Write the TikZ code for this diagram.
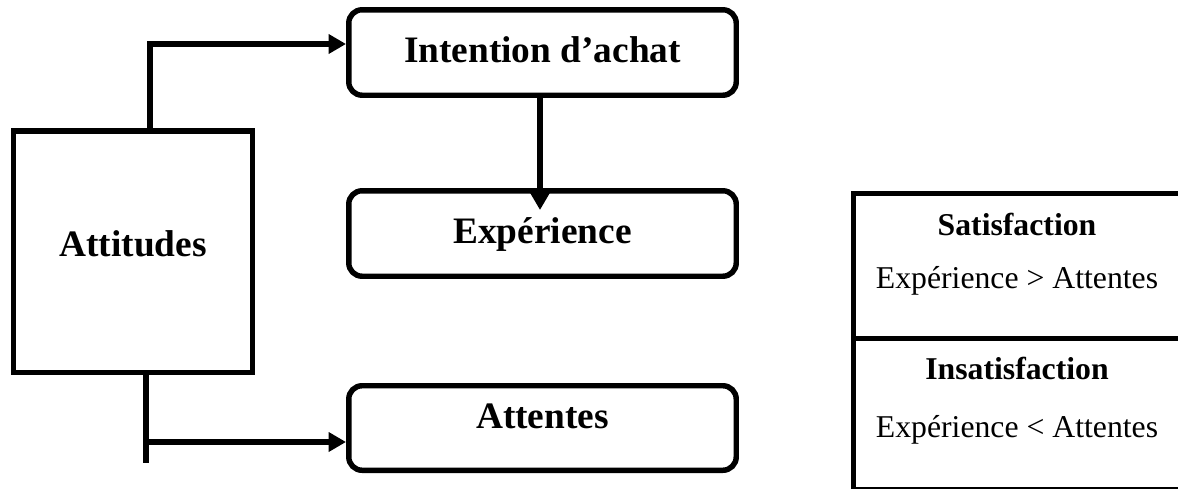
\documentclass[tikz,border=0pt]{standalone}
\usepackage{fontspec}
\setmainfont{Liberation Serif}
\usetikzlibrary{arrows.meta,calc}
\begin{document}
\begin{tikzpicture}[x=0.75pt,y=-0.75pt,line width=4.1pt,
  rbox/.style={draw,rounded corners=10pt,minimum width=290.6pt,minimum height=64.1pt,inner sep=0pt},
  abox/.style={draw,minimum width=178.9pt,minimum height=181.1pt,inner sep=0pt},
  cell/.style={draw,anchor=north west,minimum width=262pt,inner sep=0pt},
  big/.style={font=\fontsize{28}{32}\selectfont\bfseries,anchor=base,inner sep=0pt},
  smallb/.style={font=\fontsize{23.8}{28}\selectfont\bfseries,anchor=base,inner sep=0pt},
  small/.style={font=\fontsize{23.8}{28}\selectfont,anchor=base,inner sep=0pt},
  arr/.style={-{Triangle[length=13pt,width=14pt]}}]
\useasboundingbox (0,0) rectangle (1178,489);
\clip (0,0) rectangle (1178,489);
% boxes
\node[abox] (att) at (133,251.5) {};
\node[rbox] (intent) at (542.5,52.5) {};
\node[rbox] (exp) at (542.5,233.5) {};
\node[rbox,minimum height=63.4pt] (attn) at (542.5,428) {};
\node[cell,minimum height=109.1pt] (sat) at (850.5,190.5) {};
\node[cell,minimum height=113.6pt] (ins) at (850.5,336) {};
% texts
\node[big] (tatt) at (133,256) {Attitudes};
\node[big] (tint) at (542.5,62) {Intention d’achat};
\node[big] (texp) at (542.5,243) {Expérience};
\node[big] (tattn) at (542.5,428) {Attentes};
\node[smallb] (tsat) at (1017,235) {Satisfaction};
\node[small] (tsat2) at (1017,288) {Expérience > Attentes};
\node[smallb] (tins) at (1017,379) {Insatisfaction};
\node[small] (tins2) at (1017,437) {Expérience < Attentes};
% connectors
\coordinate (t1) at (150,44);
\draw[arr] (att.north -| t1) -- (t1) -- (t1 -| intent.west);
\coordinate (b1) at (146,442);
\coordinate (b2) at (146,463);
\draw (att.south -| b1) -- (b2);
\draw[arr] (b1) -- (b1 -| attn.west);
\draw[arr] ($(intent.south)+(-2.5,0)$) -- ($(exp.north)+(-2.5,22)$);
\end{tikzpicture}
\end{document}
